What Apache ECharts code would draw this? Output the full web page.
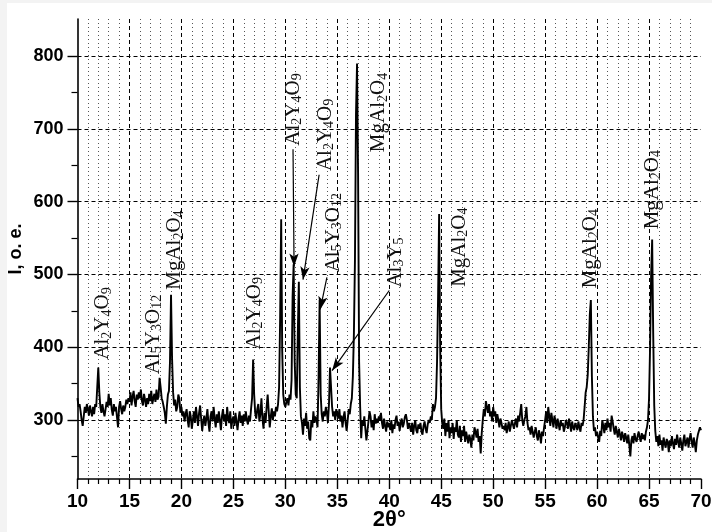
<!DOCTYPE html>
<html>
<head>
<meta charset="utf-8">
<title>XRD</title>
<script src="https://cdn.jsdelivr.net/npm/echarts@6/dist/echarts.min.js"></script>
<style>
  html, body { margin: 0; padding: 0; background: #f3f3f3; }
  #xrd { position: absolute; left: 7px; top: 3px; width: 705px; height: 529px; background: #fff; }
</style>
</head>
<body>
<div id="xrd"></div>
<script>
// scan: 2theta from 10 to 70 deg, step 0.1
var startAngle = 10;
var stepAngle = 0.1;

// intensity, one row per degree (d.0 ... d.9)
var counts = [
  330, 318, 322, 312, 300, 292, 305, 318, 310, 322, // 10
  315, 306, 320, 312, 305, 318, 308, 322, 318, 345, // 11
  372, 338, 318, 310, 322, 312, 305, 315, 325, 318, // 12
  336, 320, 330, 314, 306, 322, 312, 318, 304, 290, // 13
  318, 326, 315, 308, 320, 312, 318, 328, 322, 330, // 14
  325, 338, 320, 332, 340, 326, 318, 335, 328, 338, // 15
  330, 342, 326, 320, 336, 328, 318, 330, 322, 336, // 16
  326, 340, 322, 330, 336, 325, 342, 328, 332, 358, // 17
  345, 330, 325, 318, 310, 295, 318, 335, 340, 380, // 18
  472, 385, 338, 320, 328, 312, 318, 335, 330, 310, // 19
  318, 305, 312, 298, 308, 315, 300, 290, 312, 305, // 20
  288, 300, 312, 296, 318, 305, 292, 310, 320, 302, // 21
  285, 298, 306, 292, 302, 315, 296, 284, 305, 312, // 22
  298, 318, 302, 290, 308, 296, 312, 300, 286, 305, // 23
  315, 298, 308, 292, 318, 302, 296, 312, 288, 300, // 24
  305, 292, 310, 298, 286, 302, 312, 296, 306, 292, // 25
  308, 298, 312, 300, 294, 306, 298, 315, 330, 383, // 26
  335, 310, 302, 315, 322, 298, 308, 330, 302, 288, // 27
  310, 296, 318, 335, 312, 290, 305, 316, 300, 312, // 28
  305, 318, 312, 322, 345, 440, 576, 395, 335, 322, // 29
  318, 325, 330, 320, 335, 328, 355, 470, 514, 380, // 30
  335, 330, 420, 490, 345, 305, 296, 280, 302, 292, // 31
  310, 288, 298, 275, 272, 300, 290, 312, 296, 305, // 32
  300, 290, 360, 465, 335, 308, 298, 312, 305, 318, // 33
  310, 296, 322, 372, 345, 318, 305, 312, 300, 315, // 34
  308, 302, 315, 298, 306, 290, 304, 312, 296, 285, // 35
  300, 315, 308, 322, 330, 360, 420, 520, 720, 790, // 36
  640, 380, 318, 275, 300, 292, 305, 288, 272, 285, // 37
  298, 312, 305, 290, 300, 286, 308, 295, 302, 296, // 38
  305, 300, 310, 296, 288, 302, 292, 284, 298, 290, // 39
  296, 286, 300, 282, 294, 288, 300, 306, 292, 298, // 40
  285, 296, 302, 290, 295, 304, 308, 300, 288, 296, // 41
  290, 284, 296, 280, 292, 300, 286, 282, 294, 288, // 42
  296, 284, 280, 292, 298, 288, 282, 294, 300, 296, // 43
  305, 300, 322, 312, 318, 330, 380, 470, 583, 400, // 44
  315, 295, 288, 302, 278, 296, 284, 300, 275, 290, // 45
  282, 296, 274, 290, 284, 300, 280, 276, 292, 270, // 46
  286, 278, 292, 270, 284, 276, 268, 280, 274, 262, // 47
  280, 272, 290, 284, 276, 288, 270, 278, 254, 282, // 48
  300, 315, 305, 326, 318, 310, 322, 305, 312, 298, // 49
  318, 305, 312, 296, 308, 300, 290, 302, 296, 288, // 50
  292, 286, 296, 282, 290, 298, 284, 292, 300, 294, // 51
  288, 296, 302, 290, 306, 298, 310, 322, 300, 292, // 52
  300, 305, 318, 296, 286, 290, 280, 292, 284, 276, // 53
  284, 290, 278, 272, 286, 280, 268, 284, 278, 290, // 54
  300, 312, 296, 318, 305, 292, 310, 300, 290, 306, // 55
  298, 288, 302, 294, 286, 300, 292, 296, 284, 290, // 56
  300, 296, 288, 302, 294, 284, 298, 290, 286, 296, // 57
  292, 286, 298, 290, 284, 296, 292, 300, 318, 338, // 58
  345, 362, 400, 445, 465, 360, 305, 285, 290, 278, // 59
  284, 276, 270, 285, 278, 300, 292, 282, 296, 286, // 60
  302, 290, 296, 284, 306, 298, 288, 280, 292, 284, // 61
  276, 288, 280, 272, 284, 278, 270, 282, 276, 268, // 62
  280, 266, 250, 272, 278, 268, 282, 274, 270, 278, // 63
  284, 276, 270, 282, 274, 280, 272, 284, 290, 300, // 64
  330, 400, 500, 548, 420, 320, 285, 270, 278, 264, // 65
  280, 266, 272, 258, 276, 268, 262, 274, 270, 256, // 66
  272, 264, 278, 268, 260, 274, 266, 280, 270, 262, // 67
  276, 268, 258, 272, 280, 264, 270, 276, 262, 274, // 68
  282, 270, 262, 276, 268, 256, 272, 280, 278, 290, // 69
  286                                               // 70
];

var yMajor = [300, 400, 500, 600, 700, 800];
var yMinor = [250, 350, 450, 550, 650, 750];

// phase labels: text and where the bottom of the (vertical) text sits, in data units
var phaseNames = ['Al2Y4O9', 'Al5Y3O12', 'MgAl2O4', 'Al2Y4O9', 'Al2Y4O9', 'Al2Y4O9',
                  'Al5Y3O12', 'Al3Y5', 'MgAl2O4', 'MgAl2O4', 'MgAl2O4', 'MgAl2O4'];
var phaseAt = [[12.45, 383], [17.27, 363], [19.38, 479], [26.99, 397], [30.74, 677], [33.82, 642],
               [34.59, 503], [40.56, 482], [39.0, 668], [46.72, 483], [59.33, 481], [65.29, 562]];

// arrows from label to peak
var arrowFrom = [[30.74, 672], [33.25, 637], [34.0, 496], [40.0, 478]];
var arrowTo   = [[30.84, 511], [31.70, 493], [33.36, 452], [34.5, 368]];

var points = counts.map(function (v, i) {
    return [+(startAngle + i * stepAngle).toFixed(1), v];
});

var chartDom = document.getElementById('xrd');
var myChart = echarts.init(chartDom);
var option;

var gridDash = { color: '#000', width: 1, type: [4, 3] };

option = {
    animation: false,
    grid: { left: 70.5, right: 11, top: 16, bottom: 53, outerBoundsMode: 'none', containLabel: false },
    xAxis: {
        type: 'value',
        min: 10,
        max: 70,
        interval: 5,
        name: '2θ°',
        nameLocation: 'middle',
        nameGap: 30,
        nameMoveOverlap: false,
        nameTextStyle: { fontFamily: 'Liberation Sans', fontWeight: 'bold', fontSize: 22, color: '#000' },
        axisLine: { lineStyle: { color: '#000', width: 1.6 } },
        axisTick: { length: 10, lineStyle: { color: '#000', width: 1.4 } },
        minorTick: { show: true, splitNumber: 5, length: 5, lineStyle: { color: '#000', width: 1.2 } },
        axisLabel: {
            margin: 13,
            fontFamily: 'Liberation Sans Narrow, Liberation Sans',
            fontWeight: 'bold',
            fontSize: 19,
            color: '#000'
        },
        splitLine: { show: true, showMinLine: false, showMaxLine: false, lineStyle: gridDash },
        minorSplitLine: { show: true, lineStyle: { color: '#555', width: 1, type: [1, 3] } }
    },
    yAxis: [
        {
            type: 'value',
            min: 219,
            max: 851,
            name: 'I, o. e.',
            nameLocation: 'middle',
            nameGap: 52,
            nameMoveOverlap: false,
            nameTextStyle: { fontFamily: 'Liberation Sans', fontWeight: 'bold', fontSize: 18, color: '#000' },
            axisLine: { show: true, lineStyle: { color: '#000', width: 1.6 } },
            axisTick: { show: true, length: 10, customValues: yMajor, lineStyle: { color: '#000', width: 1.4 } },
            axisLabel: {
                customValues: yMajor,
                margin: 14,
                fontFamily: 'Liberation Sans',
                fontWeight: 'bold',
                fontSize: 18,
                color: '#000'
            },
            splitLine: { show: true, lineStyle: gridDash }
        },
        {
            type: 'value',
            min: 219,
            max: 851,
            position: 'left',
            axisLine: { show: false },
            axisTick: { show: true, length: 6, customValues: yMinor, lineStyle: { color: '#000', width: 1.2 } },
            axisLabel: { show: false },
            splitLine: { show: false }
        }
    ],
    series: [
        {
            type: 'line',
            data: points,
            showSymbol: false,
            silent: true,
            lineStyle: { color: '#000', width: 1.9 },
            markLine: {
                silent: true,
                symbol: ['none', 'arrow'],
                symbolSize: [7, 13],
                label: { show: false },
                lineStyle: { color: '#000', width: 1.2, type: 'solid' },
                data: arrowFrom.map(function (p, i) {
                    return [{ coord: p }, { coord: arrowTo[i] }];
                })
            }
        }
    ]
};

option && myChart.setOption(option);

// vertical phase labels, digits set as subscripts
function richName(s) {
    return s.replace(/([A-Za-z]+)|(\d+)/g, function (m, letters, digits) {
        return letters ? '{m|' + letters + '}' : '{s|' + digits + '}';
    });
}

var labelGraphics = phaseNames.map(function (name, i) {
    var px = myChart.convertToPixel({ gridIndex: 0 }, phaseAt[i]);
    return {
        type: 'text',
        x: px[0],
        y: px[1],
        rotation: Math.PI / 2,
        silent: true,
        style: {
            text: richName(name),
            align: 'left',
            verticalAlign: 'middle',
            textAlign: 'left',
            textVerticalAlign: 'middle',
            fill: '#111',
            rich: {
                m: { fontFamily: 'Liberation Serif', fontSize: 21, fill: '#111', color: '#111' },
                s: { fontFamily: 'Liberation Serif', fontSize: 14, fill: '#111', color: '#111', padding: [8, 0, 0, 0] }
            }
        }
    };
});

myChart.setOption({ graphic: labelGraphics });

window.addEventListener('resize', function () {
    myChart.resize();
});
</script>
</body>
</html>
